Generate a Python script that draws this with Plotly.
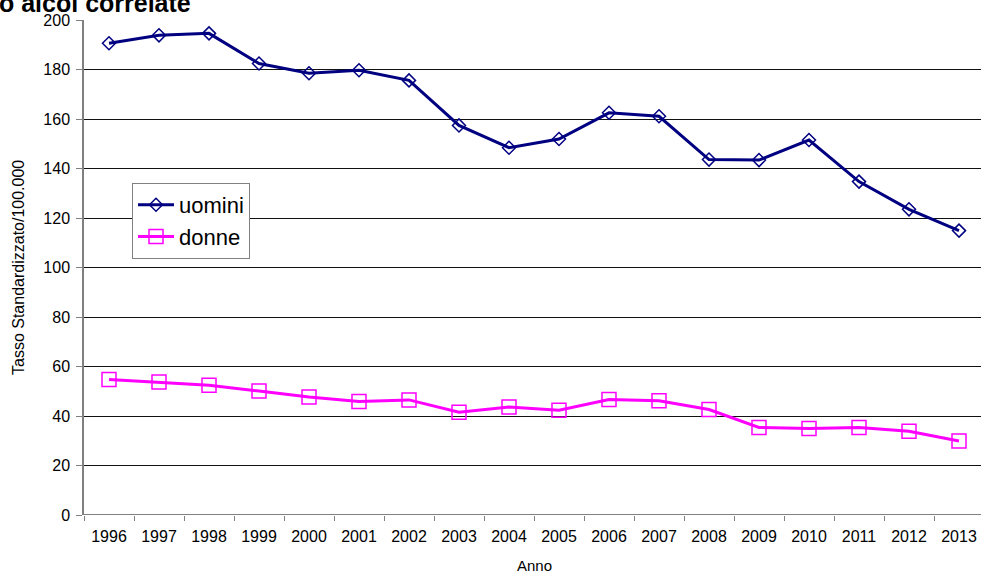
import plotly.graph_objects as go

anni = [str(y) for y in range(1996, 2014)]
uomini = [190.6, 193.8, 194.6, 182.4, 178.5, 179.7, 175.6, 157.4, 148.4, 151.9,
          162.5, 161.1, 143.6, 143.4, 151.5, 134.7, 123.5, 114.9]
donne = [54.7, 53.7, 52.4, 50.1, 47.7, 45.9, 46.5, 41.5, 43.6, 42.3,
         46.7, 46.2, 42.6, 35.4, 34.9, 35.4, 33.8, 29.9]
y_ticks = [0, 20, 40, 60, 80, 100, 120, 140, 160, 180, 200]

W, H = 981, 576
L, R, T, B = 84, 0, 20, 61
pw, ph = W - L - R, H - T - B

fig = go.Figure()
fig.add_trace(go.Scatter(
    x=anni, y=uomini, name="uomini", mode="lines+markers",
    line=dict(color="#000080", width=3),
    marker=dict(symbol="diamond-open", size=10, color="#000080",
                line=dict(color="#000080", width=1.5)),
))
fig.add_trace(go.Scatter(
    x=anni, y=donne, name="donne", mode="lines+markers",
    line=dict(color="#FF00FF", width=3),
    marker=dict(symbol="square-open", size=14, color="#FF00FF",
                line=dict(color="#FF00FF", width=1.5)),
))

font = "Arial, Liberation Sans, sans-serif"

fig.update_layout(
    width=W, height=H,
    margin=dict(l=L, r=R, t=T, b=B, autoexpand=False),
    paper_bgcolor="white", plot_bgcolor="white",
    font=dict(family=font, color="black", size=16),
    showlegend=True,
    legend=dict(
        x=(132 - L) / pw, y=(H - B - 183) / ph, xanchor="left", yanchor="top",
        bgcolor="white", bordercolor="#808080", borderwidth=1,
        font=dict(size=22, family=font, color="black"),
        tracegroupgap=0, itemwidth=36,
    ),
    xaxis=dict(
        type="category", range=[-0.5, -0.5 + pw / 50.0],
        showgrid=False, showline=False, zeroline=False,
        ticks="outside", tickson="boundaries", ticklen=5, tickcolor="#808080",
        ticklabelstandoff=10,
        tickfont=dict(size=16, family=font, color="black"),
    ),
    yaxis=dict(
        range=[0, 200], tickvals=y_ticks,
        showgrid=True, gridcolor="#111111", gridwidth=1,
        showline=True, linecolor="#808080", linewidth=1.5,
        zeroline=False,
        ticks="outside", ticklen=6, tickcolor="#808080",
        ticklabelstandoff=3,
        tickfont=dict(size=16, family=font, color="black"),
    ),
    annotations=[
        dict(text="Tasso Standardizzato/100.000", textangle=-90,
             xref="paper", yref="paper", x=(18 - L) / pw, y=(H - B - 268) / ph,
             xanchor="center", yanchor="middle", showarrow=False,
             font=dict(size=16, family=font, color="black")),
        dict(text="Anno", xref="paper", yref="paper",
             x=(534 - L) / pw, y=(H - B - 565) / ph,
             xanchor="center", yanchor="middle", showarrow=False,
             font=dict(size=15, family=font, color="black")),
        dict(text="<b>o alcol correlate</b>", xref="paper", yref="paper",
             x=(193 - L) / pw, y=(H - B - 19) / ph,
             xanchor="right", yanchor="bottom", showarrow=False,
             font=dict(size=25, family=font, color="black")),
    ],
)
fig.add_shape(type="line", xref="paper", yref="y", x0=0, x1=1, y0=0, y1=0,
              line=dict(color="black", width=1))

fig.write_html("out.html", config={"displayModeBar": False},
               post_script="document.body.style.margin='0';document.body.style.overflow='hidden';")
